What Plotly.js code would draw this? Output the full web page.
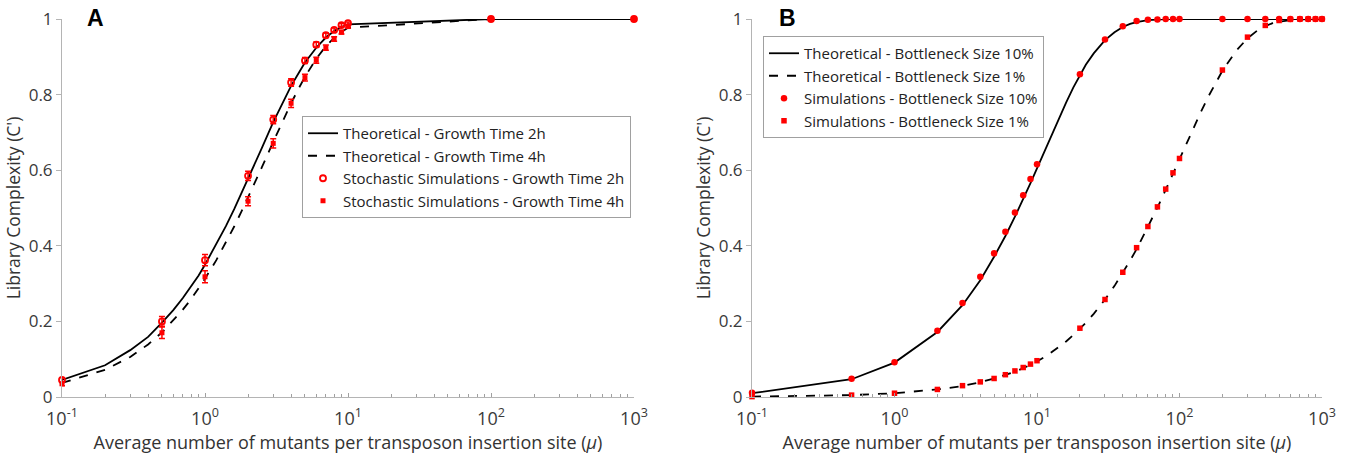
<!DOCTYPE html>
<html>
<head>
<meta charset="utf-8">
<script src="https://cdn.plot.ly/plotly-3.0.1.min.js"></script>
<style>html,body{margin:0;padding:0;background:#fff;}#chart{width:1347px;height:460px;}</style>
</head>
<body>
<div id="chart"></div>
<script>
// ---------- Panel A : theoretical curves ----------
var muTheoryA = [0.1,0.2,0.3,0.4,0.5,0.6,0.7,0.8,0.9,1,1.2,1.4,1.6,1.8,2,2.5,3,3.5,4,4.5,5,6,7,8,9,10,100,1000];
var theory2h  = [0.045,0.084,0.124,0.159,0.197,0.230,0.262,0.292,0.321,0.350,0.404,0.452,0.497,0.539,0.578,0.659,0.727,0.778,0.823,0.856,0.885,0.924,0.951,0.968,0.979,0.986,1,1];
var theory4h  = [0.037,0.072,0.106,0.139,0.171,0.202,0.231,0.259,0.287,0.313,0.362,0.408,0.451,0.491,0.528,0.608,0.675,0.731,0.777,0.815,0.847,0.895,0.928,0.950,0.966,0.977,1,1];

// ---------- Panel A : stochastic simulations ----------
var muSimA   = [0.1,0.5,1,2,3,4,5,6,7,8,9,10,100,1000];
var sim2h    = [0.045,0.200,0.362,0.585,0.734,0.832,0.890,0.932,0.957,0.971,0.984,0.989,1,1];
var sim2hErr = [0.005,0.013,0.015,0.012,0.011,0.010,0.008,0.007,0.006,0.005,0.004,0.003,0,0];
var sim4h    = [0.035,0.170,0.318,0.518,0.671,0.777,0.845,0.891,0.924,0.947,0.965,0.980,1,1];
var sim4hErr = [0.005,0.015,0.016,0.012,0.012,0.011,0.009,0.008,0.007,0.006,0.005,0.004,0,0];

// ---------- Panel B : theoretical curves ----------
var muTheoryB = [0.1,0.5,1,2,3,4,5,6,7,8,9,10,12,14,16,18,20,22,25,30,35,40,45,50,60,70,80,90,100,120,140,160,180,200,250,300,350,400,450,500,600,700,800,900,1000];
var theory10  = [0.010,0.047,0.091,0.172,0.243,0.309,0.371,0.426,0.477,0.523,0.566,0.605,0.673,0.731,0.779,0.819,0.852,0.879,0.909,0.944,0.965,0.979,0.987,0.992,0.997,0.999,1,1,1,1,1,1,1,1,1,1,1,1,1,1,1,1,1,1,1];
var theory1   = [0.001,0.005,0.010,0.020,0.029,0.039,0.049,0.058,0.067,0.076,0.085,0.094,0.112,0.130,0.147,0.164,0.180,0.196,0.220,0.258,0.294,0.328,0.361,0.391,0.449,0.501,0.548,0.591,0.630,0.696,0.751,0.796,0.832,0.863,0.916,0.949,0.969,0.981,0.989,0.993,0.997,0.999,1,1,1];

// ---------- Panel B : simulations ----------
var muSimB  = [0.1,0.5,1,2,3,4,5,6,7,8,9,10,20,30,40,50,60,70,80,90,100,200,300,400,500,600,700,800,900,1000];
var sim10   = [0.011,0.048,0.092,0.175,0.249,0.318,0.380,0.437,0.488,0.534,0.577,0.616,0.854,0.946,0.981,0.995,0.998,0.999,1,1,1,1,1,1,1,1,1,1,1,1];
var sim1    = [0.001,0.005,0.010,0.020,0.030,0.040,0.049,0.059,0.069,0.078,0.087,0.096,0.182,0.258,0.330,0.395,0.451,0.503,0.550,0.593,0.631,0.865,0.952,0.983,0.996,0.999,1,1,1,1];

var legendA = ['Theoretical - Growth Time 2h','Theoretical - Growth Time 4h','Stochastic Simulations - Growth Time 2h','Stochastic Simulations - Growth Time 4h'];
var legendB = ['Theoretical - Bottleneck Size 10%','Theoretical - Bottleneck Size 1%','Simulations - Bottleneck Size 10%','Simulations - Bottleneck Size 1%'];
var xTitle = 'Average number of mutants per transposon insertion site (<i>μ</i>)';
var yTitle = "Library Complexity (C')";
// log-axis ticks: labelled decades and unlabelled minor ticks
var xTickVals = [0.1,1,10,100,1000];
var xTickText = ['10<sup>-1</sup>','10<sup>0</sup>','10<sup>1</sup>','10<sup>2</sup>','10<sup>3</sup>'];
var xMinorVals = [0.2,0.3,0.4,0.5,0.6,0.7,0.8,0.9,2,3,4,5,6,7,8,9,20,30,40,50,60,70,80,90,200,300,400,500,600,700,800,900];
var yTickVals = [0,0.2,0.4,0.6,0.8,1];
var yTickText = ['0','0.2','0.4','0.6','0.8','1'];

var RED = '#ff0000';
var traces = [
  {x: muTheoryA, y: theory2h, name: legendA[0], mode:'lines', line:{color:'#000',width:1.8}, xaxis:'x', yaxis:'y', legend:'legend', cliponaxis:false},
  {x: muTheoryA, y: theory4h, name: legendA[1], mode:'lines', line:{color:'#000',width:1.8,dash:'dash'}, xaxis:'x', yaxis:'y', legend:'legend', cliponaxis:false},
  {x: muSimA, y: sim2h, name: legendA[2], mode:'markers', marker:{symbol:'circle-open',size:6,color:RED,line:{width:1.8,color:RED}},
   error_y:{type:'data',array:sim2hErr,visible:true,color:RED,thickness:1.5,width:3}, xaxis:'x', yaxis:'y', legend:'legend', cliponaxis:false},
  {x: muSimA, y: sim4h, name: legendA[3], mode:'markers', marker:{symbol:'square',size:5,color:RED},
   error_y:{type:'data',array:sim4hErr,visible:true,color:RED,thickness:1.5,width:3}, xaxis:'x', yaxis:'y', legend:'legend', cliponaxis:false},

  {x: muTheoryB, y: theory10, name: legendB[0], mode:'lines', line:{color:'#000',width:1.8}, xaxis:'x2', yaxis:'y2', legend:'legend2', cliponaxis:false},
  {x: muTheoryB, y: theory1, name: legendB[1], mode:'lines', line:{color:'#000',width:1.8,dash:'dash'}, xaxis:'x2', yaxis:'y2', legend:'legend2', cliponaxis:false},
  {x: muSimB, y: sim10, name: legendB[2], mode:'markers', marker:{symbol:'circle',size:6.5,color:RED}, xaxis:'x2', yaxis:'y2', legend:'legend2', cliponaxis:false},
  {x: muSimB, y: sim1, name: legendB[3], mode:'markers', marker:{symbol:'square',size:5.5,color:RED}, xaxis:'x2', yaxis:'y2', legend:'legend2', cliponaxis:false}
];

var FONT = 'Open Sans, Noto Sans, sans-serif';
function xAxis(domain, anchor){
  return {
    type:'log', domain:domain, anchor:anchor, range:[-1,3],
    showline:true, linecolor:'#b4b4b4', linewidth:1, mirror:false,
    showgrid:false, zeroline:false,
    ticks:'inside', ticklen:4, tickcolor:'#a0a0a0',
    tickmode:'array', tickvals:xTickVals, ticktext:xTickText,
    minor:{tickmode:'array', tickvals:xMinorVals, ticks:'inside', ticklen:3, tickcolor:'#a0a0a0', showgrid:false},
    ticklabelstandoff:5,
    tickfont:{family:FONT,size:18,color:'#3a3a3a'},
    title:{text:xTitle, font:{family:FONT,size:18,color:'#333'}, standoff:5}
  };
}
function yAxis(domain, anchor){
  return {
    domain:domain, anchor:anchor, range:[0,1],
    showline:true, linecolor:'#b4b4b4', linewidth:1,
    showgrid:false, zeroline:false,
    ticks:'outside', ticklen:5, tickcolor:'#b4b4b4',
    tickvals:yTickVals, ticktext:yTickText,
    tickfont:{family:FONT,size:17,color:'#3a3a3a'},
    title:{text:yTitle, font:{family:FONT,size:17.5,color:'#333'}, standoff:3}
  };
}
var yDom = [63/460, 441/460];
var layout = {
  width:1347, height:460,
  margin:{l:0,r:0,t:0,b:0},
  paper_bgcolor:'#fff', plot_bgcolor:'rgba(0,0,0,0)',
  showlegend:true,
  xaxis: xAxis([62/1347, 634/1347], 'y'),
  yaxis: yAxis(yDom, 'x'),
  xaxis2: xAxis([752/1347, 1322/1347], 'y2'),
  yaxis2: yAxis(yDom, 'x2'),
  legend:{x:302/1347, y:1-116/460, xanchor:'left', yanchor:'top', bgcolor:'#fff', bordercolor:'#a0a0a0', borderwidth:1,
          font:{family:FONT,size:15,color:'#222'}, tracegroupgap:0, itemwidth:30},
  legend2:{x:763/1347, y:1-36/460, xanchor:'left', yanchor:'top', bgcolor:'#fff', bordercolor:'#a0a0a0', borderwidth:1,
          font:{family:FONT,size:15,color:'#222'}, tracegroupgap:0, itemwidth:30},
  annotations:[
    {text:'<b>A</b>', xref:'paper', yref:'paper', x:95/1347, y:1-18/460, xanchor:'center', yanchor:'middle', showarrow:false, font:{family:'Liberation Sans, Arial, sans-serif',size:23,color:'#000'}},
    {text:'<b>B</b>', xref:'paper', yref:'paper', x:787/1347, y:1-18/460, xanchor:'center', yanchor:'middle', showarrow:false, font:{family:'Liberation Sans, Arial, sans-serif',size:23,color:'#000'}}
  ]
};
Plotly.newPlot('chart', traces, layout, {displayModeBar:false, staticPlot:true});
</script>
</body>
</html>
